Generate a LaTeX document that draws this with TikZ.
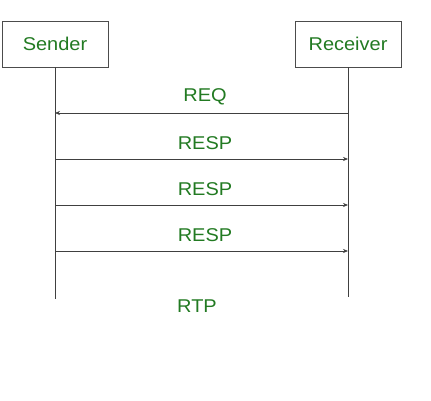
\documentclass[tikz,border=0pt]{standalone}
\usepackage{fontspec}
\setmainfont{Liberation Sans}[FakeStretch=1.08]
\usepackage{xcolor}
\usepackage{tikz}
\usetikzlibrary{positioning,arrows.meta}
\definecolor{msggreen}{RGB}{34,122,34}

\begin{document}
\begin{tikzpicture}[x=1pt, y=-1pt, font=\fontsize{18.5}{20}\selectfont,
		party/.style={draw=black!70, minimum height=46pt, minimum width=106pt, text=msggreen, inner sep=0pt},
		msg/.style={draw=black!75, semithick, -{Stealth[length=5pt,width=4pt]}},
		lbl/.style={text=msggreen}]
		\useasboundingbox (0,0) rectangle (431,401);
		\node[party] (sender) at (55,44) {Sender};
		\node[party] (receiver) at (348,44) {Receiver};
		\coordinate (send) at (55,299);
		\coordinate (recvend) at (348,297);
		\draw[black!75, semithick] (sender.south) -- (send);
		\draw[black!75, semithick] (receiver.south) -- (recvend);
		\foreach \y/\n in {113/1,159/2,205/3,251/4} {
			\coordinate (s\n) at (55,\y);
			\coordinate (r\n) at (348,\y);
		}
		\draw[msg] (r1) -- (s1);
		\draw[msg] (s2) -- (r2);
		\draw[msg] (s3) -- (r3);
		\draw[msg] (s4) -- (r4);
		\node[lbl] (req) at (205,97) {REQ};
		\node[lbl] (resp1) at (205,143) {RESP};
		\node[lbl] (resp2) at (205,189) {RESP};
		\node[lbl] (resp3) at (205,235) {RESP};
		\node[lbl] (rtp) at (197,306) {RTP};
	\end{tikzpicture}
\end{document}
